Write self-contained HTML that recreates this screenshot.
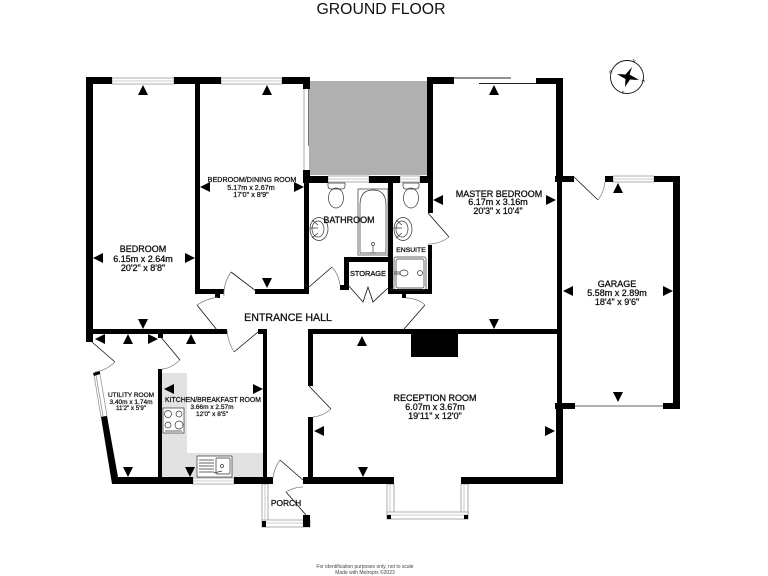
<!DOCTYPE html>
<html><head><meta charset="utf-8"><title>Ground Floor</title>
<style>
html,body{margin:0;padding:0;background:#fff}
svg{display:block}
text{font-family:"Liberation Sans",sans-serif;fill:#111;text-anchor:middle}
.a{font-size:9px;stroke:#111;stroke-width:.3}
.b{font-size:7.200px;stroke:#111;stroke-width:.25}
.d{fill:none;stroke:#111;stroke-width:.8}
.r{fill:none;stroke:#777;stroke-width:.7}
.f{fill:none;stroke:#333;stroke-width:.7}
.w{fill:#fff;stroke:#999;stroke-width:.8}
</style></head><body>
<svg width="768" height="576" viewBox="0 0 768 576" xmlns="http://www.w3.org/2000/svg">
<rect width="768" height="576" fill="#fff"/>
<text x="381" y="14" style="font-size:15.800px">GROUND FLOOR</text>
<!-- fills -->
<rect x="309" y="81" width="118" height="94" fill="#b0b0b0"/>
<path d="M162 373H187V453H263V477H162Z" fill="#e2e2e2"/>
<!-- thin lines -->
<path d="M304 88V172" stroke="#aaa" stroke-width="1" fill="none"/>
<path d="M308.500 81V146" stroke="#777" stroke-width="1" fill="none"/>
<!-- windows -->
<g class="w">
<rect x="112" y="78" width="62" height="6"/>
<rect x="221" y="78" width="61" height="6"/>
<rect x="328" y="176" width="41" height="6"/>
<rect x="400" y="176" width="20" height="6"/>
<rect x="613" y="176" width="41" height="6"/>
<rect x="193" y="478" width="41" height="6"/>
<rect x="387" y="484" width="7" height="35"/>
<rect x="461" y="484" width="7" height="35"/>
<rect x="387" y="512" width="81" height="7"/>
<rect x="262" y="484" width="6" height="43"/>
<rect x="262" y="520" width="48" height="7"/>
<path d="M94 375L100 374L107 416L101 417Z"/>
<path d="M96 375L103 416" fill="none"/>
</g>
<path d="M112 81H174M221 81H282M328 179H369M400 179H420M613 179H654M193 481H234M390 484V512M464 484V512M387 515H468M265 484V523M265 523H303" stroke="#bbb" stroke-width=".8" fill="none"/>
<path d="M454 78H511M479 83.500H536" stroke="#222" stroke-width="1" fill="none"/>
<path d="M575 406H663" stroke="#666" stroke-width="1" fill="none"/>
<!-- walls -->
<g fill="#000">
<rect x="86" y="77" width="26" height="7"/><rect x="174" y="77" width="47" height="7"/><rect x="282" y="77" width="28" height="7"/>
<rect x="303" y="84" width="7" height="5"/>
<rect x="86" y="77" width="7" height="265"/>
<rect x="195" y="77" width="5" height="217"/>
<rect x="195" y="289" width="29" height="5"/><rect x="215" y="294" width="5" height="4"/>
<rect x="255" y="289" width="54" height="5"/>
<rect x="304" y="175" width="5" height="118"/>
<rect x="303" y="170" width="7" height="6"/>
<rect x="303" y="176" width="25" height="7"/><rect x="369" y="176" width="31" height="7"/><rect x="420" y="176" width="13" height="7"/>
<rect x="427" y="77" width="6" height="106"/><rect x="427" y="77" width="27" height="7"/>
<rect x="428" y="183" width="5" height="30"/>
<rect x="536" y="78" width="27" height="6"/>
<rect x="556" y="78" width="7" height="104"/>
<rect x="555" y="176" width="19" height="6"/>
<rect x="605" y="176" width="8" height="6"/><rect x="654" y="176" width="26" height="6"/>
<rect x="673" y="176" width="7" height="233"/>
<rect x="663" y="403" width="17" height="6"/>
<rect x="557" y="182" width="5" height="225"/>
<rect x="555" y="403" width="20" height="6"/>
<rect x="556" y="403" width="7" height="81"/>
<rect x="388" y="176" width="5" height="118"/>
<rect x="344" y="257" width="49" height="5"/><rect x="344" y="257" width="5" height="33"/><rect x="340" y="285" width="8" height="5"/>
<rect x="388" y="289" width="44" height="5"/><rect x="428" y="245" width="4" height="49"/><rect x="402" y="294" width="4" height="4"/>
<rect x="86" y="329" width="141" height="5"/>
<rect x="258" y="329" width="9" height="5"/>
<rect x="263" y="329" width="4" height="151"/>
<rect x="309" y="329" width="253" height="5"/>
<rect x="308" y="329" width="5" height="57"/><rect x="308" y="417" width="5" height="67"/>
<rect x="411" y="334" width="47" height="23"/>
<rect x="158" y="334" width="5" height="4"/>
<rect x="158" y="369" width="4" height="108"/>
<rect x="112" y="477" width="81" height="7"/><rect x="234" y="477" width="39" height="7"/>
<rect x="303" y="477" width="91" height="7"/><rect x="461" y="477" width="102" height="7"/>
<path d="M101 417L107 416L118 477L112 484Z"/>
<path d="M93 373L100 371V374L94 376Z"/>
<rect x="303" y="515" width="7" height="12"/><rect x="262" y="521" width="4" height="6"/>
<rect x="387" y="515" width="4" height="4"/><rect x="464" y="515" width="4" height="4"/>
</g>
<!-- doors -->
<path class="d" d="M256 291L231 272M217 330L197 305M258 332L234 352M309 287L332 267M428 213L449 237M404 329L425 305M92 342L115 362M160 336L180 360M303 480L280 460M306 515L286 492M348 285L363 302L368 287L373 302L388 288M574 177L598 200M309 386L331 409"/>
<path class="r" d="M231 272Q223 284 224 296M197 305Q206 299 218 297M234 352Q228 342 227 330M332 267Q339 275 340 285M449 237Q440 244 428 244M406 298Q417 298 425 305M115 362Q105 371 95 372M180 360Q170 369 162 369M280 460Q274 468 273 478M286 492Q294 487 303 487M598 200Q604 192 605 182M331 409Q323 416 313 417"/>
<!-- fixtures -->
<g class="f" fill="#fff">
<rect x="358" y="189" width="30" height="66"/>
<path d="M360 253V205Q360 190 373 190Q386 190 386 205V253Z"/>
<circle cx="373" cy="244" r="1.500"/><path d="M373 246V252M370 253H376"/>
<path d="M328 183H345V186Q345 189 342 189H331Q328 189 328 186Z"/><ellipse cx="336" cy="198" rx="7.500" ry="10"/>
<path d="M403 183H419V186Q419 189 416 189H406Q403 189 403 186Z"/><ellipse cx="411" cy="198" rx="7.500" ry="10"/>
<ellipse cx="319" cy="229" rx="9" ry="11.500"/><ellipse cx="318" cy="229" rx="6" ry="8"/><path d="M310 228H318M318 225L312 220M318 233L312 238"/>
<ellipse cx="403" cy="229" rx="9" ry="11.500"/><ellipse cx="402" cy="229" rx="6" ry="8"/><path d="M394 228H402M402 225L396 220M402 233L396 238"/>
<rect x="394" y="257" width="32" height="33" rx="2"/><rect x="396" y="259" width="28" height="29" rx="2"/>
<ellipse cx="404" cy="273" rx="4" ry="3"/><circle cx="420" cy="273" r="2.500"/><path d="M394 272H400M394 274H400"/>
<rect x="163" y="408" width="21" height="25" fill="#fff"/>
<circle cx="168" cy="414" r="3.500"/><circle cx="179" cy="414" r="3"/><circle cx="168" cy="425" r="3"/><circle cx="179" cy="425" r="4"/><path d="M165 431H182"/>
<rect x="197" y="456" width="35" height="21" fill="#fff"/>
<path d="M199 460H214M199 463H214M199 466H214M199 469H214M199 472H214"/>
<rect x="216" y="458" width="14" height="16" rx="1"/><circle cx="222" cy="466" r="1.500"/><path d="M214 473L222 471"/>
</g>
<!-- arrows -->
<g fill="#000">
<path d="M143 85L148 95H138ZM267 85L272 95H262ZM494 85L499 95H489ZM618 183L623 193H613ZM128 334L133 344H123ZM191 334L196 344H186ZM362 336L367 346H357Z"/>
<path d="M143 329L148 319H138ZM267 288L272 278H262ZM494 329L499 319H489ZM618 402L623 392H613ZM128 477L133 467H123ZM190 477L195 467H185ZM363 477L368 467H358Z"/>
<path d="M93 258L103 253V263ZM200 187L210 182V192ZM433 200L443 195V205ZM95 339L105 334V344ZM164 389L174 384V394ZM314 431L324 426V436ZM563 291L573 286V296Z"/>
<path d="M195 258L185 253V263ZM304 187L294 182V192ZM556 200L546 195V205ZM158 339L148 334V344ZM263 389L253 384V394ZM555 431L545 426V436ZM673 291L663 286V296Z"/>
</g>
<!-- compass -->
<circle cx="627" cy="77" r="16.500" fill="none" stroke="#111" stroke-width=".9"/>
<path d="M632 67L629.500 74.500L639 80L630 79.500L625 87L625.500 79L617 74L625.500 74.500Z" fill="#000"/>
<g style="font-size:4px">
<text x="634" y="62" transform="rotate(20 634 61)">N</text>
<text x="643" y="82" transform="rotate(110 643 81)">E</text>
<text x="623" y="93" transform="rotate(200 623 92)">S</text>
<text x="611" y="73" transform="rotate(290 611 72)">W</text>
</g>
<!-- labels -->
<text class="a" x="143" y="252">BEDROOM</text><text class="a" x="143" y="262">6.15m  x 2.64m</text><text class="a" x="143" y="271">20'2"  x 8'8"</text>
<text class="b" x="252" y="182">BEDROOM/DINING ROOM</text><text class="b" x="251" y="190">5.17m  x 2.67m</text><text class="b" x="251" y="197">17'0"  x 8'9"</text>
<text class="a" x="499" y="197">MASTER BEDROOM</text><text class="a" x="498" y="205">6.17m  x 3.16m</text><text class="a" x="498" y="214">20'3"  x 10'4"</text>
<text x="349" y="223" style="font-size:9px;stroke:#111;stroke-width:.3">BATHROOM</text>
<text x="411" y="252" style="font-size:6.800px;stroke:#111;stroke-width:.3">ENSUITE</text>
<text x="368" y="276" style="font-size:7.400px;stroke:#111;stroke-width:.3">STORAGE</text>
<text x="288" y="321" style="font-size:10.600px;stroke:#111;stroke-width:.3">ENTRANCE HALL</text>
<text class="a" x="617" y="287">GARAGE</text><text class="a" x="617" y="296">5.58m  x 2.89m</text><text class="a" x="617" y="305">18'4"  x 9'6"</text>
<text class="a" x="435" y="401">RECEPTION ROOM</text><text class="a" x="435" y="410">6.07m  x 3.67m</text><text class="a" x="435" y="419">19'11"  x 12'0"</text>
<text class="b" x="131" y="397" style="font-size:6.500px">UTILITY ROOM</text><text class="b" x="131" y="404" style="font-size:6.500px">3.40m  x 1.74m</text><text class="b" x="131" y="410" style="font-size:6.200px">11'2"  x 5'9"</text>
<text class="b" x="213" y="402" style="font-size:6.900px">KITCHEN/BREAKFAST ROOM</text><text class="b" x="212" y="409" style="font-size:6.500px">3.66m  x 2.57m</text><text class="b" x="212" y="416" style="font-size:6.500px">12'0"  x 8'5"</text>
<text x="286" y="506" style="font-size:8.400px;stroke:#111;stroke-width:.3">PORCH</text>
<text x="365" y="568" style="font-size:5px;fill:#444">For identification purposes only, not to scale</text>
<text x="365" y="574" style="font-size:5px;fill:#444">Made with Metropix ©2023</text>
</svg>
</body></html>
